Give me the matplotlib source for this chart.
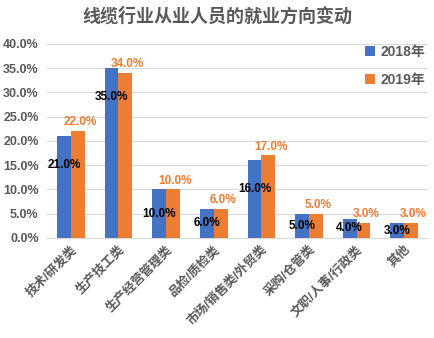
import matplotlib
matplotlib.use("Agg")
import matplotlib.pyplot as plt
import numpy as np
from matplotlib.ticker import FuncFormatter

plt.rcParams['font.family'] = ['Liberation Sans', 'Noto Sans CJK SC', 'DejaVu Sans']

categories = ['技术/研发类', '生产技工类', '生产经营管理类', '品检/质检类',
              '市场/销售类/外贸类', '采购/仓管类', '文职/人事/行政类', '其他']
v2018 = [21, 35, 10, 6, 16, 5, 4, 3]
v2019 = [22, 34, 10, 6, 17, 5, 3, 3]
series_names = ['2018年', '2019年']

blue = '#4472C4'
orange = '#ED7D31'
gray = '#595959'

fig = plt.figure(figsize=(4.35, 3.38), dpi=100)
ax = fig.add_axes([0.108, 0.296, 0.876, 0.574])

x = np.arange(len(categories))
w = 0.29
ax.bar(x - w/2, v2018, w, color=blue, label=series_names[0], zorder=3)
ax.bar(x + w/2, v2019, w, color=orange, label=series_names[1], zorder=3)

for xi, v in zip(x, v2018):
    ax.text(xi - w/2, max(v - 6, v / 2), f'{v:.1f}%', ha='center', va='center',
            fontsize=8.5, fontweight='bold', color='black', zorder=5)
for xi, v in zip(x, v2019):
    ax.text(xi + w/2 + 0.05, v + 0.6, f'{v:.1f}%', ha='center', va='bottom',
            fontsize=8.5, fontweight='bold', color=orange, zorder=5)

ax.set_ylim(0, 40)
ax.set_xlim(-0.5, len(categories) - 0.5)
ax.set_yticks(np.arange(0, 41, 5))
ax.yaxis.set_major_formatter(FuncFormatter(lambda v, p: f'{v:.1f}%'))
ax.grid(axis='y', color='#D9D9D9', linewidth=0.8, zorder=0)
for s in ['top', 'right', 'left']:
    ax.spines[s].set_visible(False)
ax.spines['bottom'].set_color('#D9D9D9')
ax.tick_params(axis='both', length=0, colors=gray)
ax.tick_params(axis='y', pad=6)
ax.tick_params(axis='x', pad=4)
ax.set_xticks(x)
ax.set_xticklabels(categories, rotation=45, ha='right', rotation_mode='anchor',
                   fontsize=9, fontweight='bold', color=gray)
for lab in ax.get_yticklabels():
    lab.set_fontweight('bold')
    lab.set_fontsize(9)
    lab.set_color(gray)

leg = ax.legend(loc='upper right', bbox_to_anchor=(1.025, 1.06), frameon=False,
                fontsize=10, handlelength=0.7, handleheight=0.7,
                handletextpad=0.4, labelspacing=1.0)
for t in leg.get_texts():
    t.set_color(gray)
    t.set_fontweight('bold')

fig.text(0.5, 0.95, '线缆行业从业人员的就业方向变动', ha='center', va='center',
         fontsize=13, fontweight='bold', color=gray)

fig.savefig('out.png', dpi=100)
